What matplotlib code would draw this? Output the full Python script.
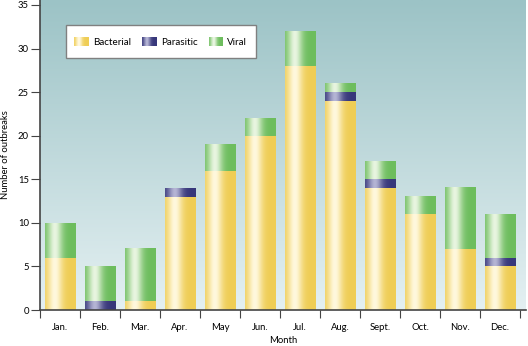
import numpy as np
import matplotlib.pyplot as plt
from matplotlib.colors import to_rgb
from matplotlib.legend_handler import HandlerBase
from matplotlib.patches import Rectangle

months = ['Jan.', 'Feb.', 'Mar.', 'Apr.', 'May', 'Jun.', 'Jul.', 'Aug.',
          'Sept.', 'Oct.', 'Nov.', 'Dec.']
bacterial = [6, 0, 1, 13, 16, 20, 28, 24, 14, 11, 7, 5]
parasitic = [0, 1, 0, 1, 0, 0, 0, 1, 1, 0, 0, 1]
viral = [4, 4, 6, 0, 3, 2, 4, 1, 2, 2, 7, 5]

plt.rcParams['font.family'] = ['Lato', 'DejaVu Sans']


def shade(edge, light, n=64):
    # horizontal "cylinder" gradient: dark edges, highlight left of centre
    t = np.linspace(0, 1, n)
    w = np.exp(-((t - 0.32) / 0.24) ** 2)
    e, l = np.array(to_rgb(edge)), np.array(to_rgb(light))
    return e[None, :] * (1 - w[:, None]) + l[None, :] * w[:, None]


grads = {
    'Bacterial': shade('#efcd55', '#fff8de'),
    'Parasitic': shade('#37377a', '#b4b4d4'),
    'Viral': shade('#6dbd5d', '#e8f5e0'),
}


class GradHandler(HandlerBase):
    def __init__(self, grad):
        super().__init__()
        self.grad = grad

    def create_artists(self, legend, orig_handle, xdescent, ydescent,
                       width, height, fontsize, trans):
        n = len(self.grad)
        h = 9 * 72 / 100.
        y0 = -ydescent + (height - h) / 2
        arts = []
        for i, c in enumerate(self.grad):
            arts.append(Rectangle((-xdescent + width * i / n, y0), width / n * 1.1, h,
                                  facecolor=c, edgecolor='none', transform=trans))
        return arts


fig = plt.figure(figsize=(5.28, 3.46), dpi=100)
ax = fig.add_axes([40 / 528, 36 / 346, 486 / 528, 310 / 346])

xlim = (-0.5, 11.65)
ylim = (0, 35.57)

# background gradient
top, bot = np.array(to_rgb('#9cc3c6')), np.array(to_rgb('#e4f0f2'))
s = np.linspace(0, 1, 256)[:, None]
bg = (top * (1 - s) + bot * s)[:, None, :]
ax.imshow(bg, extent=[xlim[0], xlim[1], ylim[0], ylim[1]], aspect='auto',
          zorder=0, interpolation='bilinear')

x = np.arange(len(months))
bottom = np.zeros(len(months))
width = 0.77
handles = []
for name, vals in [('Bacterial', bacterial), ('Parasitic', parasitic), ('Viral', viral)]:
    bars = ax.bar(x, vals, width, bottom=bottom, color='none', linewidth=0, label=name)
    for p in bars.patches:
        if p.get_height() <= 0:
            continue
        img = grads[name][None, :, :]
        ax.imshow(img, extent=[p.get_x(), p.get_x() + p.get_width(),
                               p.get_y(), p.get_y() + p.get_height()],
                  aspect='auto', zorder=2, interpolation='bilinear')
    handles.append(bars)
    bottom = bottom + np.array(vals)

ax.set_xlim(*xlim)
ax.set_ylim(*ylim)

ax.set_xticks(x)
ax.set_xticklabels(months, fontsize=6.8)
ax.set_xticks(np.arange(-0.5, 12, 1), minor=True)
ax.tick_params(axis='x', which='major', length=0, pad=9)
ax.tick_params(axis='x', which='minor', length=6, width=0.8, color='#444444', direction='out')
ax.set_yticks(range(0, 36, 5))
ax.tick_params(axis='y', length=6.5, width=0.8, color='#444444', labelsize=6.8, pad=1.5)

for sp in ['top', 'right']:
    ax.spines[sp].set_visible(False)
for sp in ['left', 'bottom']:
    ax.spines[sp].set_color('#444444')
    ax.spines[sp].set_linewidth(1.2)
    ax.spines[sp].set_zorder(5)

ax.set_xlabel('Month', fontsize=6.8, labelpad=3)
ax.set_ylabel('Number of outbreaks', fontsize=6.8, labelpad=6)

leg = ax.legend(handles, ['Bacterial', 'Parasitic', 'Viral'],
                handler_map={h: GradHandler(grads[n]) for h, n in
                             zip(handles, ['Bacterial', 'Parasitic', 'Viral'])},
                ncol=3, loc='upper left', bbox_to_anchor=(0.0535, 0.919),
                borderaxespad=0, fontsize=7.1, handlelength=1.45, handleheight=2.15,
                handletextpad=0.4, columnspacing=1.2, borderpad=0.85,
                fancybox=False, framealpha=1, edgecolor='#808080')
leg.get_frame().set_linewidth(1.0)

fig.savefig('out.png', dpi=100)
